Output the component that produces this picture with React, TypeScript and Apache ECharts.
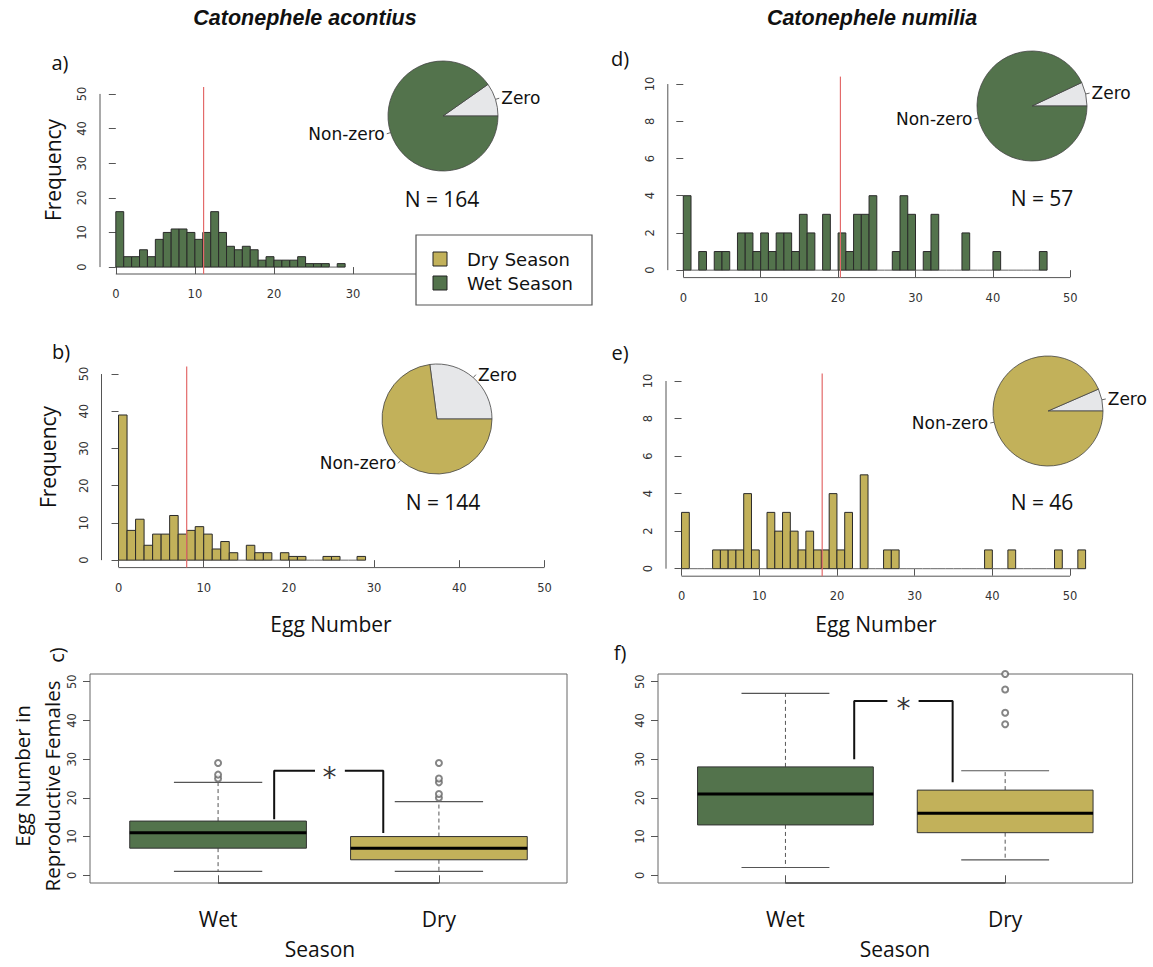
import React, { useEffect, useRef } from "react";
import * as echarts from "echarts";

// ---------------- data ----------------
// histogram counts, bin k covers egg numbers [k, k+1]
const acontiusWetCounts = [16, 3, 3, 5, 3, 8, 10, 11, 11, 10, 8, 10, 16, 10, 6, 5, 6, 5, 2, 3, 2, 2, 2, 3, 1, 1, 1, 0, 1];
const acontiusDryCounts = [39, 8, 11, 4, 7, 7, 12, 7, 8, 9, 7, 3, 5, 2, 0, 4, 2, 2, 0, 2, 1, 1, 0, 0, 1, 1, 0, 0, 1];
const numiliaWetCounts = [4, 0, 1, 0, 1, 1, 0, 2, 2, 1, 2, 1, 2, 2, 1, 3, 2, 0, 3, 0, 2, 1, 3, 3, 4, 0, 0, 1, 4, 3, 0, 1, 3, 0, 0, 0, 2, 0, 0, 0, 1, 0, 0, 0, 0, 0, 1];
const numiliaDryCounts = [3, 0, 0, 0, 1, 1, 1, 1, 4, 1, 0, 3, 2, 3, 2, 1, 2, 1, 1, 4, 1, 3, 0, 5, 0, 0, 1, 1, 0, 0, 0, 0, 0, 0, 0, 0, 0, 0, 0, 1, 0, 0, 1, 0, 0, 0, 0, 0, 1, 0, 0, 1];

// mean egg number (red line)
const acontiusWetMean = 11.1;
const acontiusDryMean = 8.0;
const numiliaWetMean = 20.3;
const numiliaDryMean = 18.1;

// pie: [zero, non-zero]
const acontiusWetPie = [16, 148];
const acontiusDryPie = [39, 105];
const numiliaWetPie = [4, 53];
const numiliaDryPie = [3, 43];
const pieNames = ["Zero", "Non-zero"];

// boxplots: [low whisker, Q1, median, Q3, high whisker]
const seasons = ["Wet", "Dry"];
const acontiusBox = [
  [1, 7, 11, 14, 24],
  [1, 4, 7, 10, 19],
];
const acontiusOutliers = [[1, 25], [1, 26], [1, 29], [2, 20], [2, 21], [2, 24], [2, 25], [2, 29]];
const numiliaBox = [
  [2, 13, 21, 28, 47],
  [4, 11, 16, 22, 27],
];
const numiliaOutliers = [[2, 39], [2, 42], [2, 48], [2, 52]];

const histXTicks = [0, 10, 20, 30, 40, 50];
const histXLabelsA = [0, 10, 20, 30]; // 40 and 50 lie under the legend
const freq50Ticks = [0, 10, 20, 30, 40, 50];
const freq10Ticks = [0, 2, 4, 6, 8, 10];
const boxYTicks = [0, 10, 20, 30, 40, 50];

// ---------------- styles ----------------
const GREEN = "#53734c";
const OLIVE = "#c2b15a";
const ZERO_GRAY = "#e6e7e9";
const RED = "#e36a6a";
const FONT = "'Open Sans', 'Liberation Sans', sans-serif";
const RFONT = "'DejaVu Sans', sans-serif";

function histSeries(g: number, counts: number[], color: string) {
  return {
    type: "custom",
    xAxisIndex: g,
    yAxisIndex: g,
    encode: { x: [0, 1], y: 2 },
    data: counts.map((c, k) => [k, k + 1, c]),
    clip: false,
    silent: true,
    z: 2,
    renderItem: (_p: any, api: any) => {
      const s = api.value(0);
      const e = api.value(1);
      const c = api.value(2);
      const p0 = api.coord([s, 0]);
      const p1 = api.coord([e, c]);
      if (c === 0) {
        return {
          type: "line",
          shape: { x1: p0[0], y1: p0[1], x2: p1[0], y2: p0[1] },
          style: { stroke: "#666", lineWidth: 1 },
        };
      }
      return {
        type: "rect",
        shape: { x: p0[0], y: p1[1], width: p1[0] - p0[0], height: p0[1] - p1[1] },
        style: { fill: color, stroke: "#2a2a2a", lineWidth: 1 },
      };
    },
  };
}

function segSeries(g: number, pts: number[][], color: string, width: number, z = 3) {
  return {
    type: "line",
    xAxisIndex: g,
    yAxisIndex: g,
    data: pts,
    symbol: "none",
    clip: false,
    silent: true,
    z,
    lineStyle: { color, width },
  };
}

function histX(g: number, labels: number[] = histXTicks) {
  return {
    type: "value",
    gridIndex: g,
    min: -2,
    max: 52,
    axisLine: { show: false },
    splitLine: { show: false },
    axisTick: { show: true, customValues: histXTicks, length: 7, lineStyle: { color: "#555" } },
    axisLabel: { show: true, customValues: labels, margin: 14, fontSize: 11.5, color: "#333", fontFamily: RFONT },
  };
}

function histY(g: number, min: number, max: number, ticks: number[]) {
  return {
    type: "value",
    gridIndex: g,
    min,
    max,
    axisLine: { show: false },
    splitLine: { show: false },
    axisTick: { show: true, customValues: ticks, length: 7, lineStyle: { color: "#555" } },
    axisLabel: { show: true, customValues: ticks, rotate: 90, margin: 12, fontSize: 11.5, color: "#333", fontFamily: RFONT },
  };
}

function pieSeries(center: number[], vals: number[], color: string) {
  return {
    type: "pie",
    center,
    radius: 55,
    startAngle: 0,
    clockwise: false,
    avoidLabelOverlap: false,
    silent: true,
    itemStyle: { borderColor: "#444", borderWidth: 0.8 },
    label: { show: true, position: "outside", formatter: "{b}", fontSize: 17, color: "#111", fontFamily: RFONT, distanceToLabelLine: 2 },
    labelLine: { show: true, length: 4, length2: 0, lineStyle: { color: "#666", width: 1 } },
    emphasis: { disabled: true },
    data: [
      { name: pieNames[0], value: vals[0], itemStyle: { color: ZERO_GRAY } },
      { name: pieNames[1], value: vals[1], itemStyle: { color } },
    ],
  };
}

function boxSeries(g: number, stats: number[][]) {
  return {
    type: "custom",
    xAxisIndex: g,
    yAxisIndex: g,
    encode: { x: 0, y: [1, 2, 3, 4, 5] },
    data: stats.map((s, i) => [i + 1, ...s]),
    silent: true,
    z: 2,
    renderItem: (params: any, api: any) => {
      const x = api.value(0);
      const v = [1, 2, 3, 4, 5].map((i) => api.value(i));
      const y = (val: number) => api.coord([x, val])[1];
      const cx = api.coord([x, 0])[0];
      const bl = api.coord([x - 0.4, 0])[0];
      const br = api.coord([x + 0.4, 0])[0];
      const sl = api.coord([x - 0.2, 0])[0];
      const sr = api.coord([x + 0.2, 0])[0];
      const fill = params.dataIndex === 0 ? GREEN : OLIVE;
      const wStyle = { stroke: "#555", lineWidth: 1, lineDash: [4, 3] };
      const sStyle = { stroke: "#555", lineWidth: 1.2 };
      return {
        type: "group",
        children: [
          { type: "line", shape: { x1: cx, y1: y(v[3]), x2: cx, y2: y(v[4]) }, style: wStyle },
          { type: "line", shape: { x1: cx, y1: y(v[1]), x2: cx, y2: y(v[0]) }, style: wStyle },
          { type: "line", shape: { x1: sl, y1: y(v[4]), x2: sr, y2: y(v[4]) }, style: sStyle },
          { type: "line", shape: { x1: sl, y1: y(v[0]), x2: sr, y2: y(v[0]) }, style: sStyle },
          { type: "rect", shape: { x: bl, y: y(v[3]), width: br - bl, height: y(v[1]) - y(v[3]) }, style: { fill, stroke: "#333", lineWidth: 1 } },
          { type: "line", shape: { x1: bl, y1: y(v[2]), x2: br, y2: y(v[2]) }, style: { stroke: "#000", lineWidth: 3 } },
        ],
      };
    },
  };
}

function outlierSeries(g: number, pts: number[][]) {
  return {
    type: "scatter",
    xAxisIndex: g,
    yAxisIndex: g,
    data: pts,
    symbol: "emptyCircle",
    symbolSize: 6,
    silent: true,
    clip: false,
    itemStyle: { color: "#666", borderWidth: 1 },
    z: 4,
  };
}

function starSeries(g: number, pt: number[]) {
  return {
    type: "scatter",
    xAxisIndex: g,
    yAxisIndex: g,
    data: [pt],
    symbolSize: 0,
    silent: true,
    label: { show: true, position: "inside", formatter: "*", fontSize: 28, color: "#000", fontFamily: RFONT, offset: [0, 7] },
    z: 5,
  };
}

function boxX(g: number) {
  return {
    type: "value",
    gridIndex: g,
    min: 0.42,
    max: 2.58,
    axisLine: { show: false },
    splitLine: { show: false },
    axisTick: { show: true, customValues: [1, 2], length: 8, lineStyle: { color: "#555" } },
    axisLabel: { show: true, customValues: [1, 2], formatter: (v: number) => seasons[Math.round(v) - 1], fontSize: 21, color: "#111", fontFamily: FONT, margin: 25 },
  };
}

function boxY(g: number) {
  return {
    type: "value",
    gridIndex: g,
    min: -2,
    max: 52,
    axisLine: { show: false },
    splitLine: { show: false },
    axisTick: { show: true, customValues: boxYTicks, length: 7, lineStyle: { color: "#555" } },
    axisLabel: { show: true, customValues: boxYTicks, rotate: 90, margin: 12, fontSize: 11.5, color: "#333", fontFamily: RFONT },
  };
}

function txt(x: number, y: number, text: string, size: number, extra: any = {}, rotation = 0) {
  const align = extra.align || "center";
  return {
    type: "text",
    x,
    y,
    rotation,
    z: 100,
    style: {
      text,
      fontSize: size,
      fontFamily: extra.fontFamily || FONT,
      fontWeight: extra.fontWeight || "normal",
      fontStyle: extra.fontStyle || "normal",
      fill: "#111",
      textAlign: align,
      align,
      textVerticalAlign: "middle",
      verticalAlign: "middle",
    },
  };
}

function buildOption() {
  const grids = [
    { left: 100, top: 87, width: 427, height: 187 }, // a
    { left: 101.5, top: 366.6, width: 460, height: 201 }, // b
    { left: 667.8, top: 76.6, width: 418, height: 201 }, // d
    { left: 666, top: 373.5, width: 419.6, height: 202.7 }, // e
    { left: 90, top: 674, width: 477, height: 209, show: true, borderColor: "#666", borderWidth: 1 }, // c
    { left: 658, top: 674, width: 474.6, height: 209, show: true, borderColor: "#666", borderWidth: 1 }, // f
  ];

  const xAxis = [histX(0, histXLabelsA), histX(1), histX(2), histX(3), boxX(4), boxX(5)];
  const yAxis = [
    histY(0, -2, 52, freq50Ticks),
    histY(1, -2, 52, freq50Ticks),
    histY(2, -0.4, 10.4, freq10Ticks),
    histY(3, -0.4, 10.4, freq10Ticks),
    boxY(4),
    boxY(5),
  ];

  const series: any[] = [
    // histograms
    histSeries(0, acontiusWetCounts, GREEN),
    histSeries(1, acontiusDryCounts, OLIVE),
    histSeries(2, numiliaWetCounts, GREEN),
    histSeries(3, numiliaDryCounts, OLIVE),
    // axis lines of histograms (only across the tick range)
    segSeries(0, [[0, -2], [50, -2]], "#555", 1),
    segSeries(0, [[-2, 0], [-2, 50]], "#555", 1),
    segSeries(1, [[0, -2], [50, -2]], "#555", 1),
    segSeries(1, [[-2, 0], [-2, 50]], "#555", 1),
    segSeries(2, [[0, -0.4], [50, -0.4]], "#555", 1),
    segSeries(2, [[-2, 0], [-2, 10]], "#555", 1),
    segSeries(3, [[0, -0.4], [50, -0.4]], "#555", 1),
    segSeries(3, [[-2, 0], [-2, 10]], "#555", 1),
    // mean lines
    segSeries(0, [[acontiusWetMean, -2], [acontiusWetMean, 52]], RED, 1.2, 6),
    segSeries(1, [[acontiusDryMean, -2], [acontiusDryMean, 52]], RED, 1.2, 6),
    segSeries(2, [[numiliaWetMean, -0.4], [numiliaWetMean, 10.4]], RED, 1.2, 6),
    segSeries(3, [[numiliaDryMean, -0.4], [numiliaDryMean, 10.4]], RED, 1.2, 6),
    // pies
    pieSeries([443, 116], acontiusWetPie, GREEN),
    pieSeries([437, 419], acontiusDryPie, OLIVE),
    pieSeries([1032, 106], numiliaWetPie, GREEN),
    pieSeries([1048, 411], numiliaDryPie, OLIVE),
    // boxplots
    boxSeries(4, acontiusBox),
    boxSeries(5, numiliaBox),
    outlierSeries(4, acontiusOutliers),
    outlierSeries(5, numiliaOutliers),
    segSeries(4, [[1, -2], [2, -2]], "#444", 1.6),
    segSeries(5, [[1, -2], [2, -2]], "#444", 1.6),
    // significance brackets
    segSeries(4, [[1.254, 14.5], [1.254, 27], [1.439, 27]], "#111", 2, 5),
    segSeries(4, [[1.574, 27], [1.748, 27], [1.748, 10.9]], "#111", 2, 5),
    starSeries(4, [1.505, 27]),
    segSeries(5, [[1.313, 30], [1.313, 45], [1.464, 45]], "#111", 2, 5),
    segSeries(5, [[1.606, 45], [1.761, 45], [1.761, 24]], "#111", 2, 5),
    starSeries(5, [1.537, 45]),
  ];

  const R90 = Math.PI / 2;
  const graphic: any[] = [
    txt(305, 18, "Catonephele acontius", 21.5, { fontWeight: "bold", fontStyle: "italic", fontFamily: "'Liberation Sans', Arial, sans-serif" }),
    txt(872, 18, "Catonephele numilia", 21.5, { fontWeight: "bold", fontStyle: "italic", fontFamily: "'Liberation Sans', Arial, sans-serif" }),
    txt(60, 62, "a)", 20),
    txt(61, 351, "b)", 20),
    txt(620, 58, "d)", 20),
    txt(620, 352, "e)", 20),
    txt(620, 652, "f)", 20),
    txt(56, 655, "c)", 20, {}, R90),
    txt(53, 170, "Frequency", 21, {}, R90),
    txt(48, 457, "Frequency", 21, {}, R90),
    txt(331, 624, "Egg Number", 21),
    txt(876, 624, "Egg Number", 21),
    txt(320, 949, "Season", 21),
    txt(895, 949, "Season", 21),
    txt(22, 776, "Egg Number in", 20.5, {}, R90),
    txt(52, 786, "Reproductive Females", 20.5, {}, R90),
    txt(442, 199, "N = 164", 21),
    txt(443, 502, "N = 144", 21),
    txt(1042, 198, "N = 57", 21),
    txt(1042, 502, "N = 46", 21),
    // legend
    { type: "rect", z: 100, shape: { x: 416, y: 235, width: 176, height: 70 }, style: { fill: "#fff", stroke: "#555", lineWidth: 1.2 } },
    { type: "rect", z: 101, shape: { x: 433, y: 252, width: 14, height: 14 }, style: { fill: OLIVE, stroke: "#222", lineWidth: 1 } },
    { type: "rect", z: 101, shape: { x: 433, y: 276, width: 14, height: 14 }, style: { fill: GREEN, stroke: "#222", lineWidth: 1 } },
    { ...txt(467, 259, "Dry Season", 18, { align: "left", fontFamily: RFONT }), z: 101 },
    { ...txt(467, 283, "Wet Season", 18, { align: "left", fontFamily: RFONT }), z: 101 },
  ];

  return {
    animation: false,
    backgroundColor: "#ffffff",
    grid: grids,
    xAxis,
    yAxis,
    series,
    graphic,
  };
}

export default function App() {
  const ref = useRef<HTMLDivElement>(null);
  useEffect(() => {
    if (!ref.current) return;
    const chart = echarts.init(ref.current, undefined, { renderer: "svg" });
    chart.setOption(buildOption() as any);
    return () => chart.dispose();
  }, []);
  return (
    <div
      ref={ref}
      style={{ position: "absolute", left: 0, top: 0, width: 1153, height: 967, background: "#fff" }}
    />
  );
}
